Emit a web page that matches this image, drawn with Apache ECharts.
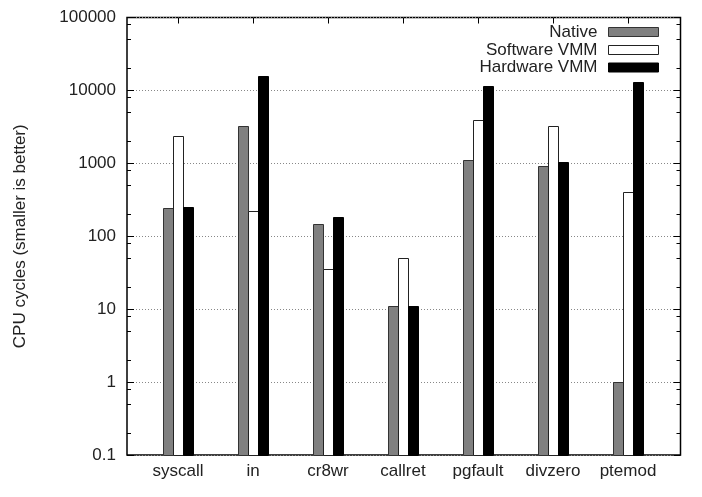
<!DOCTYPE html>
<html>
<head>
<meta charset="utf-8">
<script src="https://cdn.jsdelivr.net/npm/echarts@6/dist/echarts.min.js"></script>
<style>
  html, body { margin: 0; padding: 0; background: #fff; }
  #chart { width: 702px; height: 497px; }
</style>
</head>
<body>
<div id="chart"></div>
<script>
// values (CPU cycles, log scale)
const categories = ['syscall', 'in', 'cr8wr', 'callret', 'pgfault', 'divzero', 'ptemod'];
const native = [244, 3220, 149, 10.9, 1100, 910, 1];
const softwareVMM = [2350, 219, 35.4, 51, 3980, 3290, 405];
const hardwareVMM = [251, 16000, 181, 11, 11400, 1030, 12900];
const seriesNames = ['Native', 'Software VMM', 'Hardware VMM'];

const FONT = 'Liberation Sans, Arial, sans-serif';
const BAR_W = 10;

// gnuplot-style minor ticks at 2, 5, 8 of every decade (log10 space)
const minorTicks = [];
for (let k = -1; k < 5; k++) {
    [2, 5, 8].forEach(m => minorTicks.push(Math.log10(m) + k));
}
const catTicks = categories.map((_, i) => i);

const styles = [
    { fill: '#808080', stroke: '#333333' },
    { fill: '#ffffff', stroke: '#222222' },
    { fill: '#000000', stroke: '#000000' }
];

function barSeries(name, values, k) {
    return {
        name: name,
        type: 'custom',
        xAxisIndex: 0,
        yAxisIndex: 0,
        itemStyle: { color: styles[k].fill, borderColor: styles[k].stroke, borderWidth: 1 },
        data: values.map((v, i) => [i, v]),
        renderItem: function (params, api) {
            const top = api.coord([api.value(0), api.value(1)]);
            const base = api.coord([api.value(0), 0.1]);
            const cx = top[0] + (k - 1) * BAR_W;
            return {
                type: 'rect',
                shape: { x: Math.round(cx - BAR_W / 2) + 0.5, y: Math.round(top[1]) + 0.5, width: BAR_W, height: Math.round(base[1]) - Math.round(top[1]) },
                style: { fill: styles[k].fill, stroke: styles[k].stroke, lineWidth: 1 }
            };
        }
    };
}

function legendFor(k, top) {
    return {
        data: [{ name: seriesNames[k], icon: 'rect',
                 itemStyle: { color: styles[k].fill, borderColor: styles[k].stroke, borderWidth: 1 } }],
        right: 43,
        top: top,
        align: 'right',
        padding: 0,
        itemWidth: 50,
        itemHeight: 9,
        selectedMode: false,
        textStyle: { fontFamily: FONT, fontSize: 17, color: '#222', padding: [0, 6, 0, 0] }
    };
}

const chart = echarts.init(document.getElementById('chart'), null, { renderer: 'canvas' });

const option = {
    animation: false,
    backgroundColor: '#fff',
    grid: {
        left: 127, right: 21.5, top: 17.5, bottom: 42,
        show: true, borderColor: '#000', borderWidth: 1.5, backgroundColor: 'transparent'
    },
    legend: [legendFor(0, 23.5), legendFor(1, 41.5), legendFor(2, 59)],
    xAxis: [
        {
            type: 'value', min: -0.68, max: 6.7, position: 'bottom',
            axisLine: { show: false, onZero: false },
            axisTick: { show: false },
            splitLine: { show: false },
            axisLabel: {
                customValues: catTicks,
                formatter: v => categories[Math.round(v)],
                fontFamily: FONT, fontSize: 17, color: '#222', margin: 8
            }
        },
        {
            type: 'value', min: -0.68, max: 6.7, position: 'top',
            axisLine: { show: false, onZero: false },
            axisTick: { show: true, inside: true, length: 6, customValues: catTicks,
                        lineStyle: { color: '#000', width: 1 } },
            splitLine: { show: false },
            axisLabel: { show: false }
        }
    ],
    yAxis: [
        {
            type: 'log', logBase: 10, min: 0.1, max: 100000, interval: 1, position: 'left',
            name: 'CPU cycles (smaller is better)',
            nameLocation: 'middle', nameGap: 98,
            nameTextStyle: { fontFamily: FONT, fontSize: 17, color: '#222' },
            axisLine: { show: false, onZero: false },
            axisTick: { show: true, inside: true, length: 7, lineStyle: { color: '#000', width: 1 } },
            splitLine: { show: true, lineStyle: { color: '#888', type: [1, 2], width: 1 } },
            axisLabel: {
                formatter: v => String(+(+v).toPrecision(3)),
                fontFamily: FONT, fontSize: 17, color: '#222', margin: 11
            }
        },
        {
            type: 'value', min: -1, max: 5, position: 'left',
            axisLine: { show: false, onZero: false },
            axisTick: { show: true, inside: true, length: 4, customValues: minorTicks,
                        lineStyle: { color: '#000', width: 1 } },
            splitLine: { show: false },
            axisLabel: { show: false }
        },
        {
            type: 'log', logBase: 10, min: 0.1, max: 100000, interval: 1, position: 'right',
            axisLine: { show: false, onZero: false },
            axisTick: { show: true, inside: true, length: 7, lineStyle: { color: '#000', width: 1 } },
            splitLine: { show: false },
            axisLabel: { show: false }
        },
        {
            type: 'value', min: -1, max: 5, position: 'right',
            axisLine: { show: false, onZero: false },
            axisTick: { show: true, inside: true, length: 4, customValues: minorTicks,
                        lineStyle: { color: '#000', width: 1 } },
            splitLine: { show: false },
            axisLabel: { show: false }
        }
    ],
    series: [
        barSeries(seriesNames[0], native, 0),
        barSeries(seriesNames[1], softwareVMM, 1),
        barSeries(seriesNames[2], hardwareVMM, 2)
    ]
};

chart.setOption(option);
</script>
</body>
</html>
